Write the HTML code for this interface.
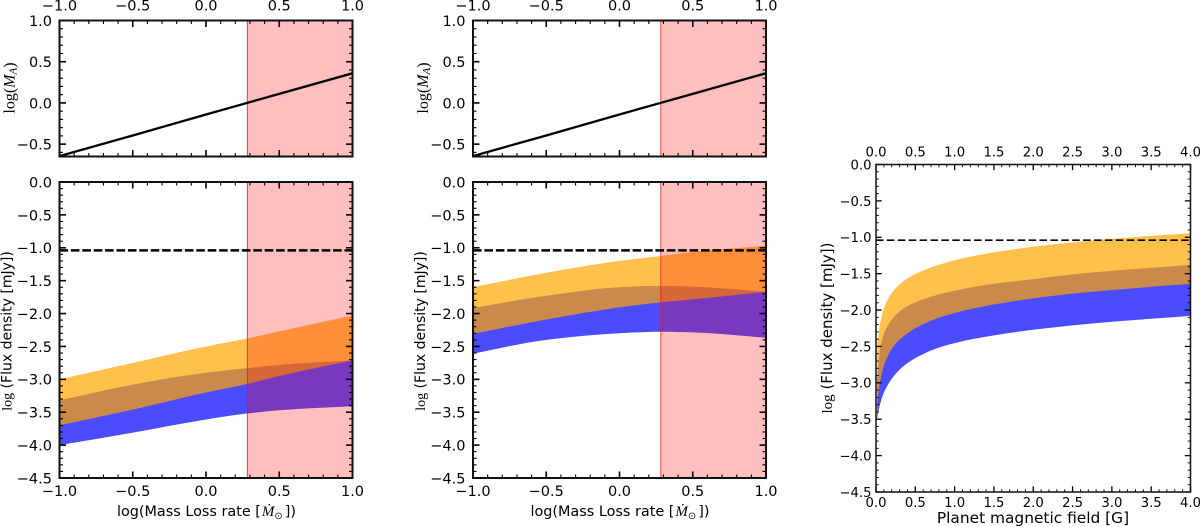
<!DOCTYPE html>
<html>
<head>
<meta charset="utf-8">
<title>Flux density panels</title>
<style>
html,body{margin:0;padding:0;background:#fff;}
svg{display:block;font-family:"DejaVu Sans","Liberation Sans",sans-serif;fill:#000;}
</style>
</head>
<body>
<svg id="figure" xmlns="http://www.w3.org/2000/svg" width="1200" height="527" viewBox="0 0 1200 527"></svg>
<script>
// Shared data
const massLoss = [-1, -0.5, 0, 0.28, 0.5, 1];
const alfvenLimit = 0.282;
const detectionLimit = -1.04;
const logMA = [-0.645, -0.395, -0.14, 0, 0.11, 0.36];

// Panel A bands (log flux density)
const aOrangeTop = [-3.0, -2.75, -2.5, -2.38, -2.27, -2.03];
const aOrangeBottom = [-3.7, -3.46, -3.2, -3.07, -2.95, -2.71];
const aBlueTop = [-3.32, -3.08, -2.9, -2.83, -2.78, -2.71];
const aBlueBottom = [-4.0, -3.81, -3.61, -3.52, -3.47, -3.41];

// Panel B bands
const bOrangeTop = [-1.6, -1.38, -1.2, -1.125, -1.065, -0.968];
const bOrangeBottom = [-2.31, -2.09, -1.906, -1.83, -1.784, -1.668];
const bBlueTop = [-1.916, -1.73, -1.6, -1.577, -1.59, -1.668];
const bBlueBottom = [-2.61, -2.4, -2.3, -2.276, -2.286, -2.367];

// Panel C bands
const fieldG = [0.015, 0.05, 0.115, 0.25, 0.35, 0.5, 0.75, 1, 1.25, 1.6, 2, 2.5, 3, 3.5, 4];
const cOrangeTop = [-2.48, -2.2, -1.93, -1.7, -1.605, -1.505, -1.395, -1.315, -1.255, -1.19, -1.13, -1.07, -1.022, -0.98, -0.945];
const cOrangeBottom = [-3.3, -3.0, -2.72, -2.46, -2.36, -2.25, -2.125, -2.04, -1.975, -1.905, -1.84, -1.775, -1.725, -1.68, -1.64];
const cBlueTop = [-2.95, -2.55, -2.29, -2.07, -1.98, -1.895, -1.8, -1.735, -1.68, -1.625, -1.575, -1.51, -1.46, -1.42, -1.38];
const cBlueBottom = [-3.5, -3.3, -3.1, -2.875, -2.77, -2.66, -2.535, -2.455, -2.395, -2.33, -2.27, -2.21, -2.16, -2.12, -2.08];

// Tick labels
const massTicks = [-1, -0.5, 0, 0.5, 1];
const maTicks = [-0.5, 0, 0.5, 1];
const fluxTicks = [0, -0.5, -1, -1.5, -2, -2.5, -3, -3.5, -4, -4.5];
const fieldTicks = [0, 0.5, 1, 1.5, 2, 2.5, 3, 3.5, 4];

const NS = 'http://www.w3.org/2000/svg';
const fig = document.getElementById('figure');

function mk(parent, tag, attrs, text) {
  const n = document.createElementNS(NS, tag);
  for (const k in attrs) n.setAttribute(k, attrs[k]);
  if (text !== undefined) n.textContent = text;
  parent.appendChild(n);
  return n;
}
function linear(d0, d1, r0, r1) {
  return v => r0 + (v - d0) * (r1 - r0) / (d1 - d0);
}
function fmt(v) {
  return (v < 0 ? '\u2212' : '') + Math.abs(v).toFixed(1);
}
// Monotone cubic curve through screen points ordered by increasing x
function tangents(pts) {
  const n = pts.length, h = [], s = [], m = [];
  for (let i = 0; i < n - 1; i++) {
    h.push(pts[i + 1][0] - pts[i][0]);
    s.push((pts[i + 1][1] - pts[i][1]) / h[i]);
  }
  m[0] = s[0];
  m[n - 1] = s[n - 2];
  for (let i = 1; i < n - 1; i++) {
    if (s[i - 1] * s[i] <= 0) { m[i] = 0; continue; }
    const w1 = 2 * h[i] + h[i - 1], w2 = h[i] + 2 * h[i - 1];
    m[i] = (w1 + w2) / (w1 / s[i - 1] + w2 / s[i]);
  }
  return m;
}
function segments(pts, m, reverse) {
  let d = '';
  const n = pts.length;
  if (!reverse) {
    for (let i = 0; i < n - 1; i++) {
      const h = (pts[i + 1][0] - pts[i][0]) / 3;
      d += 'C' + (pts[i][0] + h).toFixed(2) + ',' + (pts[i][1] + m[i] * h).toFixed(2) + ' ' +
           (pts[i + 1][0] - h).toFixed(2) + ',' + (pts[i + 1][1] - m[i + 1] * h).toFixed(2) + ' ' +
           pts[i + 1][0].toFixed(2) + ',' + pts[i + 1][1].toFixed(2);
    }
  } else {
    for (let i = n - 1; i > 0; i--) {
      const h = (pts[i][0] - pts[i - 1][0]) / 3;
      d += 'C' + (pts[i][0] - h).toFixed(2) + ',' + (pts[i][1] - m[i] * h).toFixed(2) + ' ' +
           (pts[i - 1][0] + h).toFixed(2) + ',' + (pts[i - 1][1] + m[i - 1] * h).toFixed(2) + ' ' +
           pts[i - 1][0].toFixed(2) + ',' + pts[i - 1][1].toFixed(2);
    }
  }
  return d;
}
function bandPath(xs, top, bottom, sx, sy) {
  const up = xs.map((x, i) => [sx(x), sy(top[i])]);
  const low = xs.map((x, i) => [sx(x), sy(bottom[i])]);
  const last = low[low.length - 1];
  return 'M' + up[0][0].toFixed(2) + ',' + up[0][1].toFixed(2) + segments(up, tangents(up), false) +
         'L' + last[0].toFixed(2) + ',' + last[1].toFixed(2) + segments(low, tangents(low), true) + 'Z';
}
function drawTicks(group, o) {
  const r = o.rect;
  const sw = o.tickWidth;
  for (let v = o.xMin; v <= o.xMax + 1e-9; v += o.xMinor) {
    const x = o.sx(v);
    const major = o.xTicks.some(t => Math.abs(t - v) < 1e-6);
    const len = major ? o.majorLen : o.minorLen;
    const w = major ? sw : sw * 0.7;
    mk(group, 'line', {x1: x, x2: x, y1: r.b, y2: r.b - len, stroke: '#000', 'stroke-width': w});
    mk(group, 'line', {x1: x, x2: x, y1: r.t, y2: r.t + len, stroke: '#000', 'stroke-width': w});
  }
  for (let v = o.yStart; v <= o.yMax + 1e-9; v += o.yMinor) {
    const y = o.sy(v);
    const major = o.yTicks.some(t => Math.abs(t - v) < 1e-6);
    const len = major ? o.majorLen : o.minorLen;
    const w = major ? sw : sw * 0.7;
    mk(group, 'line', {x1: r.l, x2: r.l + len, y1: y, y2: y, stroke: '#000', 'stroke-width': w});
    mk(group, 'line', {x1: r.r, x2: r.r - len, y1: y, y2: y, stroke: '#000', 'stroke-width': w});
  }
}
function drawLabels(group, o) {
  const r = o.rect;
  o.xTicks.forEach(t => {
    if (o.showBottom) {
      const lb = mk(group, 'text', {x: o.sx(t), y: r.b + o.xLabelGap, 'text-anchor': 'middle', 'font-size': o.fs}, fmt(t));
      
      
    }
    if (o.showTop) {
      const lt = mk(group, 'text', {x: o.sx(t), y: r.t - o.topGap, 'text-anchor': 'middle', 'font-size': o.fs}, fmt(t));
      
      
    }
  });
  o.yTicks.forEach(t => {
    const ly = mk(group, 'text', {x: r.l - o.yLabelGap, y: o.sy(t) + o.fs * 0.37, 'text-anchor': 'end', 'font-size': o.fs}, fmt(t));
    
    
  });
}
function drawBand(group, xs, top, bottom, color, sx, sy, name) {
  const p = mk(group, 'path', {d: bandPath(xs, top, bottom, sx, sy), fill: color, 'fill-opacity': 0.7});
  
  
}
function drawLimit(group, sx, rect) {
  const x0 = sx(alfvenLimit);
  const s = mk(group, 'rect', {x: x0, y: rect.t, width: rect.r - x0, height: rect.b - rect.t, fill: 'rgb(255,0,0)', 'fill-opacity': 0.25});
  
  
  const e = mk(group, 'line', {x1: x0, x2: x0, y1: rect.t, y2: rect.b, stroke: 'rgb(225,30,30)', 'stroke-width': 0.9, 'stroke-opacity': 0.9});
  
  
}
function axesFrame(group, rect, sw) {
  const f = mk(group, 'rect', {x: rect.l, y: rect.t, width: rect.r - rect.l, height: rect.b - rect.t, fill: 'none', stroke: '#111', 'stroke-width': sw});
  
  
}
function clipFor(id, rect) {
  const cp = mk(fig, 'clipPath', {id: id});
  mk(cp, 'rect', {x: rect.l, y: rect.t, width: rect.r - rect.l, height: rect.b - rect.t});
  return 'url(#' + id + ')';
}
function massXLabel(group, cx, y) {
  const t = mk(group, 'text', {x: cx, y: y, 'text-anchor': 'middle', 'font-size': 14.4});
  
  
  mk(t, 'tspan', {}, 'log(Mass Loss rate [');
  mk(t, 'tspan', {'font-family': '"Liberation Serif",serif', 'font-style': 'italic', 'font-size': 15, dx: 1}, 'M\u0307');
  mk(t, 'tspan', {'font-family': '"DejaVu Sans",sans-serif', 'font-size': 10, dy: 3}, '\u2299');
  mk(t, 'tspan', {dy: -3, dx: 2}, '])');
}
function fluxYLabel(group, x, y, fs) {
  const t = mk(group, 'text', {transform: 'translate(' + x + ',' + y + ') rotate(-90)', 'text-anchor': 'middle', 'font-size': fs});
  
  
  mk(t, 'tspan', {'font-family': '"Liberation Serif",serif'}, 'log');
  mk(t, 'tspan', {}, ' (Flux density [mJy])');
}

function upperPanel(name, left) {
  const g = mk(fig, 'g', {});
  
  
  const rect = {l: left, r: left + 293, t: 20.5, b: 156.5};
  const sx = linear(-1, 1, rect.l, rect.r);
  const sy = linear(-0.65, 1, rect.b, rect.t);
  const clip = clipFor(name + '-clip', rect);
  const plot = mk(g, 'g', {'clip-path': clip});
  drawLimit(plot, sx, rect);
  const line = mk(plot, 'path', {d: 'M' + massLoss.map((x, i) => sx(x).toFixed(2) + ',' + sy(logMA[i]).toFixed(2)).join('L'), fill: 'none', stroke: '#000', 'stroke-width': 2.3});
  
  
  const o = {rect, sx, sy, xMin: -1, xMax: 1, xMinor: 0.1, yStart: -0.6, yMax: 1, yMinor: 0.1, xTicks: massTicks, yTicks: maTicks, majorLen: 6.5, minorLen: 3.5, tickWidth: 1.6, fs: 14.5, xLabelGap: 0, topGap: 9.8, yLabelGap: 7.5, showBottom: false, showTop: true};
  drawTicks(g, o);
  drawLabels(g, o);
  axesFrame(g, rect, 2);
  const t = mk(g, 'text', {transform: 'translate(' + (left - 45) + ',88) rotate(-90)', 'text-anchor': 'middle', 'font-size': 16, 'font-family': '"Liberation Serif",serif'});
  
  
  mk(t, 'tspan', {}, 'log(');
  mk(t, 'tspan', {'font-style': 'italic'}, 'M');
  mk(t, 'tspan', {'font-style': 'italic', 'font-size': 11, dy: 2}, 'A');
  mk(t, 'tspan', {dy: -2}, ')');
}

function lowerPanel(name, left, oTop, oBot, bTop, bBot) {
  const g = mk(fig, 'g', {});
  
  
  const rect = {l: left, r: left + 293, t: 182, b: 478};
  const sx = linear(-1, 1, rect.l, rect.r);
  const sy = linear(-4.5, 0, rect.b, rect.t);
  const clip = clipFor(name + '-clip', rect);
  const plot = mk(g, 'g', {'clip-path': clip});
  drawBand(plot, massLoss, bTop, bBot, 'rgb(0,0,255)', sx, sy, 'blue-band');
  drawBand(plot, massLoss, oTop, oBot, 'rgb(255,165,0)', sx, sy, 'orange-band');
  drawLimit(plot, sx, rect);
  const d = mk(plot, 'line', {x1: rect.l, x2: rect.r, y1: sy(detectionLimit), y2: sy(detectionLimit), stroke: '#000', 'stroke-width': 2.5, 'stroke-dasharray': '8.6 2.8'});
  
  
  const o = {rect, sx, sy, xMin: -1, xMax: 1, xMinor: 0.1, yStart: -4.5, yMax: 0, yMinor: 0.1, xTicks: massTicks, yTicks: fluxTicks, majorLen: 6.5, minorLen: 3.5, tickWidth: 1.6, fs: 14.5, xLabelGap: 18, topGap: 6, yLabelGap: 7.5, showBottom: true, showTop: false};
  drawTicks(g, o);
  drawLabels(g, o);
  axesFrame(g, rect, 2);
  massXLabel(g, left + 147, 516);
  fluxYLabel(g, left - 48, 331, 14);
}

function fieldPanel() {
  const g = mk(fig, 'g', {});
  
  
  const rect = {l: 876, r: 1190.5, t: 164.5, b: 492};
  const sx = linear(0, 4, rect.l, rect.r);
  const sy = linear(-4.5, 0, rect.b, rect.t);
  const clip = clipFor('field-panel-clip', rect);
  const plot = mk(g, 'g', {'clip-path': clip});
  drawBand(plot, fieldG, cBlueTop, cBlueBottom, 'rgb(0,0,255)', sx, sy, 'blue-band');
  drawBand(plot, fieldG, cOrangeTop, cOrangeBottom, 'rgb(255,165,0)', sx, sy, 'orange-band');
  const d = mk(plot, 'line', {x1: rect.l, x2: rect.r, y1: sy(detectionLimit), y2: sy(detectionLimit), stroke: '#000', 'stroke-width': 1.7, 'stroke-dasharray': '7.5 3.4'});
  
  
  const o = {rect, sx, sy, xMin: 0, xMax: 4, xMinor: 0.1, yStart: -4.5, yMax: 0, yMinor: 0.1, xTicks: fieldTicks, yTicks: fluxTicks, majorLen: 5.7, minorLen: 2.8, tickWidth: 1.3, fs: 13.2, xLabelGap: 15, topGap: 7.8, yLabelGap: 4.5, showBottom: true, showTop: true};
  drawTicks(g, o);
  drawLabels(g, o);
  axesFrame(g, rect, 1.5);
  const xt = mk(g, 'text', {x: 1033, y: 523, 'text-anchor': 'middle', 'font-size': 15.4}, 'Planet magnetic field [G]');
  
  
  fluxYLabel(g, 832, 328, 15);
}

upperPanel('mach-panel-left', 59.5);
upperPanel('mach-panel-middle', 473);
lowerPanel('flux-panel-left', 59.5, aOrangeTop, aOrangeBottom, aBlueTop, aBlueBottom);
lowerPanel('flux-panel-middle', 473, bOrangeTop, bOrangeBottom, bBlueTop, bBlueBottom);
fieldPanel();
</script>
</body>
</html>
